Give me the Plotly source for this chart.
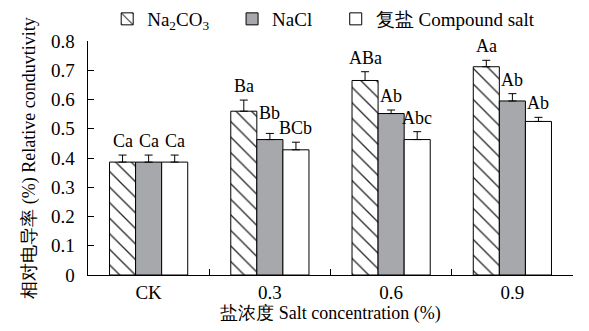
import plotly.graph_objects as go

# Relative conductivity under different salt treatments
categories = ["CK", "0.3", "0.6", "0.9"]
series_names = ["Na<sub>2</sub>CO<sub>3</sub>", "NaCl", "复盐 Compound salt"]

na2co3 = [0.386, 0.560, 0.665, 0.712]
na2co3_err = [0.024, 0.038, 0.030, 0.022]
nacl = [0.386, 0.463, 0.552, 0.595]
nacl_err = [0.024, 0.021, 0.012, 0.025]
compound = [0.386, 0.428, 0.463, 0.525]
compound_err = [0.024, 0.026, 0.027, 0.014]

na2co3_sig = ["Ca", "Ba", "ABa", "Aa"]
nacl_sig = ["Ca", "Bb", "Ab", "Ab"]
compound_sig = ["Ca", "BCb", "Abc", "Ab"]

values = [na2co3, nacl, compound]
errors = [na2co3_err, nacl_err, compound_err]
letters = [na2co3_sig, nacl_sig, compound_sig]

SERIF = "Liberation Serif, serif"
BAR_GAP = 0.355
GREY = "#a7a8ac"

styles = [
    dict(color="white", pattern=dict(shape="\\", fgcolor="black", bgcolor="white",
                                     size=11, solidity=0.12, fgopacity=0.85)),
    dict(color=GREY),
    dict(color="white"),
]

# one legend per series so each entry sits at its own spot along the top
legend_ids = ["legend", "legend2", "legend3"]
legend_x = [0.182, 0.394, 0.570]

fig = go.Figure()
for name, vals, errs, style, lid in zip(series_names, values, errors, styles, legend_ids):
    fig.add_trace(go.Bar(
        x=categories,
        y=vals,
        name=name,
        legend=lid,
        marker=dict(**style, line=dict(color="black", width=1)),
        error_y=dict(type="data", array=errs, arrayminus=[0] * len(errs),
                     symmetric=False, color="black", thickness=1, width=4),
    ))

# significance letters above each error bar
n_series = len(values)
bar_w = (1 - BAR_GAP) / n_series
for s, (vals, errs, labs) in enumerate(zip(values, errors, letters)):
    offset = (s - (n_series - 1) / 2) * bar_w
    for i, (v, e, lab) in enumerate(zip(vals, errs, labs)):
        lift = 20 if lab == "Bb" else 14
        fig.add_annotation(
            x=i + offset, y=v + e, text=lab, showarrow=False,
            yanchor="middle", yshift=lift,
            font=dict(family=SERIF, size=18, color="black"),
        )

legend_common = dict(orientation="h", xref="container", yref="container",
                     xanchor="left", y=0.9426, yanchor="middle",
                     font=dict(family=SERIF, size=19, color="black"),
                     itemwidth=30, bgcolor="rgba(0,0,0,0)")

fig.update_layout(
    width=589, height=331,
    margin=dict(l=88, r=16, t=41, b=56, autoexpand=False),
    paper_bgcolor="white", plot_bgcolor="white",
    barmode="group", bargap=BAR_GAP, bargroupgap=0,
    font=dict(family=SERIF, size=19, color="black"),
    showlegend=True,
    legend=dict(x=legend_x[0], **legend_common),
    legend2=dict(x=legend_x[1], **legend_common),
    legend3=dict(x=legend_x[2], **legend_common),
    xaxis=dict(
        type="category", tickson="boundaries", ticks="inside", ticklen=6,
        showline=True, linecolor="black", linewidth=1, mirror=False,
        showgrid=False, zeroline=False, tickcolor="black",
        tickfont=dict(family=SERIF, size=19),
        title=dict(text="盐浓度 Salt concentration (%)", standoff=4,
                   font=dict(family=SERIF, size=18)),
    ),
    yaxis=dict(
        range=[0, 0.8], dtick=0.1, ticks="inside", ticklen=6, tickcolor="black",
        showline=True, linecolor="black", linewidth=1,
        ticksuffix="\u00a0\u2009",
        tickfont=dict(family=SERIF, size=19),
        showgrid=False, zeroline=False, tickformat="~g",
        title=dict(text="相对电导率 (%) Relative conduvtivity", standoff=10,
                   font=dict(family=SERIF, size=18)),
    ),
)

fig.write_html("out.html")
